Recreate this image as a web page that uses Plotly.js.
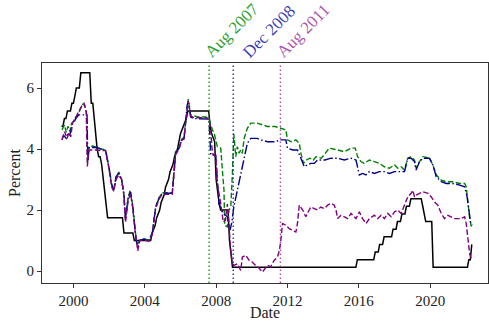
<!DOCTYPE html>
<html>
<head>
<meta charset="utf-8">
<script src="https://cdn.plot.ly/plotly-3.0.1.min.js"></script>
<style>html,body{margin:0;padding:0;background:#fff;}#chart{width:489px;height:321px;}</style>
</head>
<body>
<div id="chart"></div>
<script>
// ---- Data (decimal years for the estimated series) ----
const fedDates = ["1999-05","1999-06","1999-07","1999-08","1999-09","1999-11","1999-12","2000-01","2000-02","2000-03","2000-05","2000-06",
"2000-12","2001-01","2001-02","2001-03","2001-04","2001-05","2001-06","2001-07","2001-08","2001-09","2001-10","2001-11","2001-12",
"2002-10","2002-11","2003-05","2003-06","2004-05","2004-06","2004-08","2004-09","2004-11","2004-12","2005-02","2005-03","2005-05","2005-06",
"2005-08","2005-09","2005-11","2005-12","2006-01","2006-03","2006-05","2006-06","2007-08","2007-09","2007-10","2007-12","2008-01","2008-03",
"2008-04","2008-09","2008-10","2008-12","2015-11","2015-12","2016-11","2016-12","2017-02","2017-03","2017-05","2017-06","2017-11","2017-12",
"2018-02","2018-03","2018-05","2018-06","2018-08","2018-09","2018-11","2018-12","2019-07","2019-08","2019-09","2019-10","2020-02","2020-03",
"2022-02","2022-03","2022-04","2022-05"];
const fedVals = [4.75,4.75,5.0,5.0,5.25,5.25,5.5,5.5,5.75,6.0,6.0,6.5,
6.5,5.5,5.5,5.0,4.5,4.0,3.75,3.75,3.5,3.0,2.5,2.0,1.75,
1.75,1.25,1.25,1.0,1.0,1.25,1.5,1.75,2.0,2.25,2.5,2.75,3.0,3.25,
3.5,3.75,4.0,4.25,4.5,4.75,5.0,5.25,5.25,4.75,4.5,4.25,3.0,2.25,
2.0,2.0,1.0,0.125,0.125,0.375,0.375,0.625,0.625,0.875,0.875,1.125,1.125,1.375,
1.375,1.625,1.625,1.875,1.875,2.125,2.125,2.375,2.375,2.125,1.875,1.625,1.625,0.125,
0.125,0.375,0.375,0.875];

const greenT = [1999.36,1999.50,1999.60,1999.70,1999.80,1999.90,2000.00,2000.10,2000.25,2000.40,2000.52,2000.64,2000.74,2000.80,2000.88,
2001.10,2001.33,2001.52,2001.80,2001.98,2002.15,2002.26,2002.39,2002.54,2002.70,2002.83,2002.92,2003.05,2003.18,2003.33,2003.44,2003.52,
2003.61,2003.72,2003.95,2004.23,2004.42,2004.61,2004.79,2004.98,2005.54,2005.72,2005.90,2006.07,2006.20,2006.30,2006.38,2006.44,2006.57,
2006.76,2007.00,2007.42,2007.60,2007.79,2007.90,2008.07,2008.26,2008.35,2008.44,2008.48,2008.63,2008.72,2008.82,2008.91,2008.99,2009.10,
2009.19,2009.29,2009.38,2009.47,2009.57,2009.75,2009.94,2010.30,2010.60,2010.88,2011.30,2011.63,2011.91,2012.00,2012.20,2012.47,2012.66,
2012.75,2012.90,2013.05,2013.25,2013.45,2013.60,2013.90,2014.16,2014.34,2014.81,2015.19,2015.56,2015.80,2015.93,2016.12,2016.30,2016.59,
2016.87,2017.15,2017.43,2017.71,2018.00,2018.18,2018.37,2018.56,2018.74,2018.93,2019.12,2019.21,2019.40,2019.59,2019.96,2020.15,2020.34,
2020.62,2020.90,2021.27,2021.65,2021.93,2022.02,2022.11,2022.20,2022.30];
const greenV = [4.63,4.79,4.55,4.75,4.57,4.85,4.90,5.01,5.12,5.34,5.47,5.42,5.15,3.55,4.08,
4.10,4.05,4.00,3.98,3.45,2.80,2.68,3.05,3.25,3.02,2.50,1.75,2.35,2.65,2.15,1.50,1.05,
0.85,1.02,1.05,1.02,1.25,2.10,2.40,2.57,2.57,3.90,4.05,4.32,4.38,5.00,5.50,5.64,5.12,
5.08,5.05,5.05,5.00,4.63,4.50,4.08,4.03,3.31,2.65,1.50,1.45,2.00,2.10,3.20,4.50,3.75,
4.08,3.86,3.97,3.86,4.35,4.68,4.85,4.85,4.78,4.74,4.74,4.68,4.63,4.30,4.24,4.30,4.19,
3.86,3.53,3.64,3.70,3.64,3.75,3.70,3.91,4.03,3.97,3.91,4.03,4.03,3.75,3.59,3.53,3.64,
3.59,3.53,3.42,3.37,3.48,3.37,3.42,3.31,3.70,3.75,3.64,3.37,3.59,3.75,3.70,3.48,3.15,
2.98,2.93,2.93,2.87,2.87,2.76,2.22,1.78,1.45];

const blueT = [1999.36,1999.45,1999.60,1999.70,1999.80,1999.92,2000.05,2000.15,2000.30,2000.76,2000.81,2000.88,2001.33,2001.52,2001.80,
2001.98,2002.15,2002.26,2002.39,2002.54,2002.70,2002.83,2002.92,2003.07,2003.20,2003.33,2003.44,2003.52,2003.61,2003.72,2003.95,2004.23,
2004.42,2004.61,2004.79,2004.98,2005.54,2005.73,2005.92,2006.07,2006.20,2006.29,2006.38,2006.44,2006.57,2006.76,2007.42,2007.60,2007.70,
2007.98,2008.16,2008.40,2008.63,2008.78,2008.88,2008.99,2009.19,2009.38,2009.57,2009.75,2009.94,2010.30,2010.50,2010.88,2011.30,2011.63,
2011.91,2012.00,2012.30,2012.56,2012.75,2012.94,2013.10,2013.30,2013.50,2013.69,2014.10,2014.44,2014.81,2015.19,2015.56,2015.84,2016.03,
2016.21,2016.40,2016.59,2016.87,2017.15,2017.43,2017.71,2018.00,2018.30,2018.56,2018.74,2018.93,2019.12,2019.21,2019.40,2019.59,2019.96,
2020.15,2020.34,2020.62,2020.90,2021.27,2021.65,2021.93,2022.07,2022.15,2022.27,2022.35];
const blueV = [4.30,4.45,4.35,4.52,4.45,4.79,4.90,5.01,5.12,5.12,3.60,4.05,4.05,4.00,3.95,
3.45,2.85,2.65,3.10,3.20,3.00,2.55,1.70,2.40,2.60,2.10,1.45,1.00,0.80,1.00,1.05,1.00,
1.23,2.10,2.38,2.55,2.55,3.86,4.03,4.30,4.35,4.96,5.45,5.55,5.05,5.00,4.98,4.98,3.80,
3.80,2.20,1.90,1.78,1.34,1.60,2.10,2.65,3.20,3.75,4.19,4.35,4.35,4.30,4.24,4.24,4.30,
4.30,4.03,3.97,3.97,3.70,3.42,3.48,3.53,3.53,3.64,3.64,3.70,3.70,3.64,3.70,3.64,3.15,
3.20,3.15,3.26,3.20,3.26,3.26,3.20,3.26,3.26,3.26,3.70,3.70,3.59,3.31,3.59,3.70,3.70,
3.48,3.09,2.93,2.87,2.87,2.82,2.76,2.43,2.00,1.56,1.50];

const purpleT = [1999.36,1999.50,1999.65,1999.75,1999.85,1999.95,2000.10,2000.30,2000.50,2000.60,2000.72,2000.78,2000.86,2001.33,2001.52,
2001.80,2001.98,2002.15,2002.26,2002.39,2002.54,2002.70,2002.83,2002.92,2003.07,2003.20,2003.33,2003.44,2003.52,2003.61,2003.72,2003.95,
2004.23,2004.42,2004.61,2004.79,2004.98,2005.54,2005.73,2005.92,2006.07,2006.20,2006.29,2006.38,2006.44,2006.57,2006.76,2007.42,2007.60,
2007.70,2007.79,2007.98,2008.07,2008.26,2008.40,2008.52,2008.63,2008.72,2008.80,2008.91,2009.00,2009.19,2009.38,2009.47,2009.66,2009.85,
2010.02,2010.20,2010.40,2010.60,2010.88,2011.05,2011.25,2011.44,2011.55,2011.63,2011.72,2011.91,2012.10,2012.28,2012.47,2012.56,2012.66,
2012.85,2013.03,2013.12,2013.31,2013.50,2013.69,2013.87,2014.06,2014.25,2014.44,2014.62,2014.72,2014.81,2015.00,2015.19,2015.37,2015.56,
2015.84,2016.03,2016.21,2016.40,2016.59,2016.87,2017.06,2017.25,2017.43,2017.62,2017.81,2018.00,2018.18,2018.37,2018.56,2018.74,2018.93,
2019.03,2019.12,2019.21,2019.40,2019.59,2019.87,2020.06,2020.24,2020.43,2020.62,2020.80,2020.99,2021.36,2021.74,2021.93,2022.02,2022.11,
2022.21,2022.30];
const purpleV = [4.30,4.57,4.35,4.55,4.40,4.85,5.01,5.23,5.45,5.50,5.23,3.43,3.97,3.97,3.95,
3.95,3.40,2.75,2.62,3.00,3.15,3.00,2.50,1.60,2.30,2.55,2.05,1.40,0.95,0.66,1.00,1.02,
0.98,1.20,2.05,2.35,2.52,2.52,3.82,4.00,4.28,4.33,4.90,5.45,5.58,5.08,5.03,5.02,5.00,
4.63,3.86,3.75,2.87,2.20,1.61,1.67,2.20,1.56,0.79,0.24,0.19,0.24,0.02,0.46,0.52,0.35,
0.30,0.19,0.10,-0.03,0.19,0.14,0.35,0.46,0.68,1.01,1.56,1.50,1.39,1.34,1.28,1.56,2.16,
2.00,1.78,1.90,2.10,2.05,2.00,2.10,2.05,2.16,2.22,2.16,2.00,1.72,1.83,1.78,1.72,1.89,
1.72,1.94,1.72,1.56,1.72,1.83,1.72,1.83,1.72,1.89,1.78,1.94,2.00,1.89,2.16,2.43,2.55,
2.65,2.43,2.49,2.55,2.60,2.55,2.43,2.27,2.16,1.89,1.72,1.83,1.72,1.72,1.78,1.56,1.01,
0.57,0.40];

const eventDates = ["2007-08-09","2008-12-16","2011-08-09"];
const eventLabels = ["Aug 2007","Dec 2008","Aug 2011"];
const xTickYears = ["2000","2004","2008","2012","2016","2020"];
const yTickVals = [0,2,4,6];

// decimal year -> date string (unit conversion only)
function dy(y){
  const yr = Math.floor(y);
  const a = Date.UTC(yr,0,1), b = Date.UTC(yr+1,0,1);
  return new Date(a + (y-yr)*(b-a)).toISOString().slice(0,10);
}

const FONT = '"Liberation Serif", "Times New Roman", serif';
const lineColors = ['rgba(0,150,0,0.9)','rgba(20,20,190,0.9)','rgba(160,40,160,0.85)'];
const textColors = ['rgba(0,140,0,0.85)','rgba(20,20,170,0.85)','rgba(150,40,150,0.8)'];

const traces = [
  {x: fedDates, y: fedVals, mode:'lines', line:{color:'#000', width:1.5}, hoverinfo:'skip'},
  {x: greenT.map(dy), y: greenV, mode:'lines', line:{color:'#008000', width:1.4, dash:'5.5px,2.4px'}},
  {x: blueT.map(dy), y: blueV, mode:'lines', line:{color:'#00008b', width:1.4, dash:'9.6px,2.4px,1.5px,2.4px'}},
  {x: purpleT.map(dy), y: purpleV, mode:'lines', line:{color:'#800080', width:1.4, dash:'5.5px,2.4px'}}
];

const shapes = eventDates.map((d,i)=>({
  type:'line', xref:'x', yref:'paper', x0:d, x1:d, y0:0, y1:1,
  line:{color:lineColors[i], width:1.4, dash:'1.5px,2.5px'}
}));
const xshifts = [-11, 3, -10];
const annotations = eventDates.map((d,i)=>({
  x:d, xref:'x', y:1, yref:'paper', text:eventLabels[i], showarrow:false,
  textangle:-45, xanchor:'left', yanchor:'bottom', xshift:xshifts[i], yshift:-1,
  font:{family:FONT, size:17, color:textColors[i]}
}));

const axisCommon = {
  showline:true, mirror:true, linecolor:'#333', linewidth:1,
  ticks:'outside', ticklen:4, tickwidth:1, tickcolor:'#333',
  showgrid:false, zeroline:false,
  tickfont:{family:FONT, size:15, color:'#222'}
};

const layout = {
  width:489, height:321,
  margin:{l:42, r:1, t:63, b:38},
  paper_bgcolor:'#fff', plot_bgcolor:'#fff',
  showlegend:false,
  font:{family:FONT, color:'#222'},
  xaxis: Object.assign({}, axisCommon, {
    type:'date', range:[dy(1998.24), dy(2023.24)],
    tickvals: xTickYears.map(y=>y+'-01-01'), ticktext: xTickYears,
    title:{text:'Date', font:{family:FONT, size:16, color:'#222'}, standoff:4}
  }),
  yaxis: Object.assign({}, axisCommon, {
    range:[-0.39, 6.82], tickvals:yTickVals, ticktext:yTickVals.map(String),
    title:{text:'Percent', font:{family:FONT, size:16, color:'#222'}, standoff:1}
  }),
  shapes: shapes,
  annotations: annotations
};

Plotly.newPlot('chart', traces, layout, {staticPlot:true, displayModeBar:false});
</script>
</body>
</html>
